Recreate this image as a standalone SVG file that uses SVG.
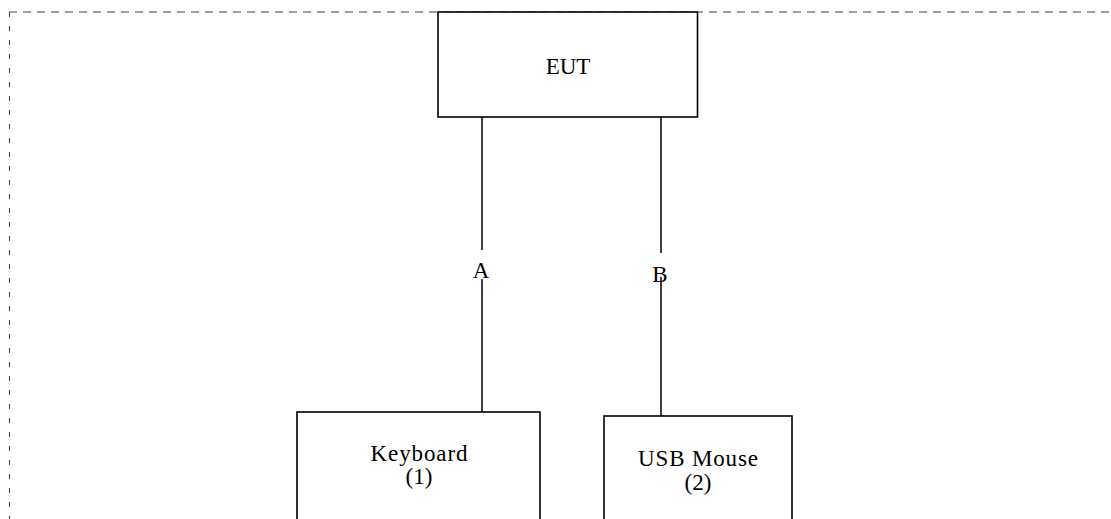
<svg xmlns="http://www.w3.org/2000/svg" width="1111" height="519" viewBox="0 0 1111 519">
  <style>
    .box { fill: #ffffff; stroke: #000000; stroke-width: 1.6; }
    .wire { stroke: #000000; stroke-width: 1.5; fill: none; }
    .frame { stroke: #444444; stroke-width: 1.1; fill: none; }
    .lbl { font-family: "Liberation Serif", "Times New Roman", serif; font-size: 23px; fill: #000000; text-anchor: middle; }
    .cl { font-family: "Liberation Serif", "Times New Roman", serif; font-size: 23px; fill: #000000; text-anchor: middle; }
  </style>
  <g id="frame">
    <line class="frame" x1="9" y1="12" x2="1111" y2="12" stroke-dasharray="8 6"/>
    <line class="frame" x1="9.5" y1="12" x2="9.5" y2="519" stroke-dasharray="5 9"/>
  </g>
  <g id="connectors">
    <line class="wire" x1="482" y1="117" x2="482" y2="250"/>
    <line class="wire" x1="482" y1="279" x2="482" y2="412"/>
    <line class="wire" x1="661" y1="117" x2="661" y2="253"/>
    <line class="wire" x1="661" y1="277" x2="661" y2="416"/>
    <text class="cl" x="481" y="278">A</text>
    <text class="cl" x="660" y="282">B</text>
  </g>
  <g id="eut">
    <rect class="box" x="438" y="12" width="259.5" height="105"/>
    <text class="lbl" x="568" y="74">EUT</text>
  </g>
  <g id="keyboard">
    <rect class="box" x="297" y="412" width="243" height="110"/>
    <text class="lbl" x="419" y="461" textLength="97" lengthAdjust="spacing">Keyboard</text>
    <text class="lbl" x="419" y="484">(1)</text>
  </g>
  <g id="usb-mouse">
    <rect class="box" x="604" y="416" width="188" height="110"/>
    <text class="lbl" x="698" y="466" textLength="120" lengthAdjust="spacing">USB Mouse</text>
    <text class="lbl" x="698" y="490">(2)</text>
  </g>
</svg>
